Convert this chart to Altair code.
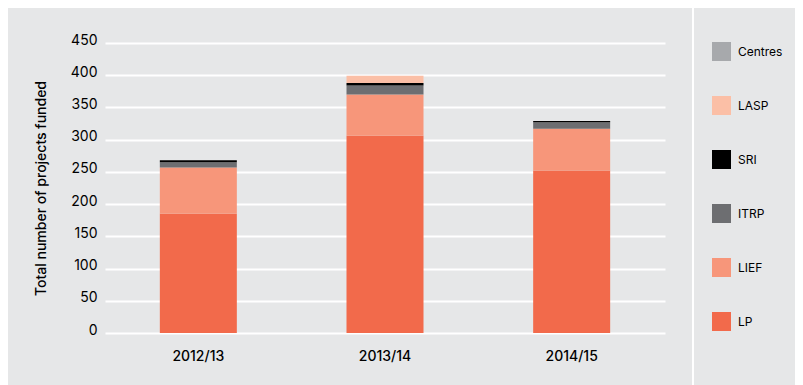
import altair as alt
import pandas as pd

years = ["2012/13", "2013/14", "2014/15"]
schemes = ["Centres", "LASP", "SRI", "ITRP", "LIEF", "LP"]  # legend order (top to bottom)
stack_order = ["LP", "LIEF", "ITRP", "SRI", "LASP", "Centres"]  # bottom to top
colors = ["#a7a9ac", "#fbbfa6", "#000000", "#6d6e71", "#f7967a", "#f26a4b"]

LP = [185, 306, 252]
LIEF = [72, 64, 65]
ITRP = [8, 14, 10]
SRI = [3, 4, 2]
LASP = [0, 11, 0]
Centres = [0, 0, 0]

series = {"LP": LP, "LIEF": LIEF, "ITRP": ITRP, "SRI": SRI, "LASP": LASP, "Centres": Centres}
rows = []
for s, vals in series.items():
    for y, v in zip(years, vals):
        rows.append({"year": y, "scheme": s, "value": v, "ord": stack_order.index(s)})
df = pd.DataFrame(rows)

FONT = "Inter"
BG = "#e6e7e8"

bars = alt.Chart(df).mark_bar(size=77).encode(
    x=alt.X("year:N", sort=years,
            scale=alt.Scale(paddingInner=0, paddingOuter=0),
            axis=alt.Axis(title=None, labelAngle=0, domain=False, ticks=False,
                          labelPadding=16, labelFontSize=14, labelFontWeight=500,
                          labelFont=FONT, labelColor="#000000")),
    y=alt.Y("value:Q", stack="zero",
            scale=alt.Scale(domain=[0, 450], nice=False),
            axis=alt.Axis(title="Total number of projects funded", values=list(range(0, 451, 50)),
                          domain=False, ticks=False, labelPadding=8, labelFontSize=14,
                          labelOffset=-3,
                          labelFont=FONT, labelColor="#000000", gridColor="#ffffff",
                          gridWidth=2, titleFont=FONT, titleFontSize=14, titleFontWeight=500,
                          titleColor="#000000", titlePadding=22)),
    color=alt.Color("scheme:N", sort=schemes,
                    scale=alt.Scale(domain=schemes, range=colors),
                    legend=alt.Legend(title=None, orient="none", legendX=607, legendY=-1,
                                      symbolType="square", symbolSize=361, symbolStrokeWidth=0,
                                      rowPadding=35, labelFontSize=12, labelFont=FONT,
                                      labelColor="#000000", labelOffset=7)),
    order=alt.Order("ord:Q", sort="ascending"),
)

sep = alt.Chart(pd.DataFrame({"a": [0]})).mark_rule(color="#ffffff", strokeWidth=2).encode(
    x=alt.value(588), y=alt.value(-40), y2=alt.value(360)
)

chart = alt.layer(bars, sep).properties(
    width=560, height=290,
    background=BG,
    autosize=alt.AutoSizeParams(type="none"),
    padding={"left": 97, "top": 35, "right": 130, "bottom": 52},
).configure_view(stroke=None)

chart.save("out.html", embed_options={"renderer": "svg", "actions": False})
